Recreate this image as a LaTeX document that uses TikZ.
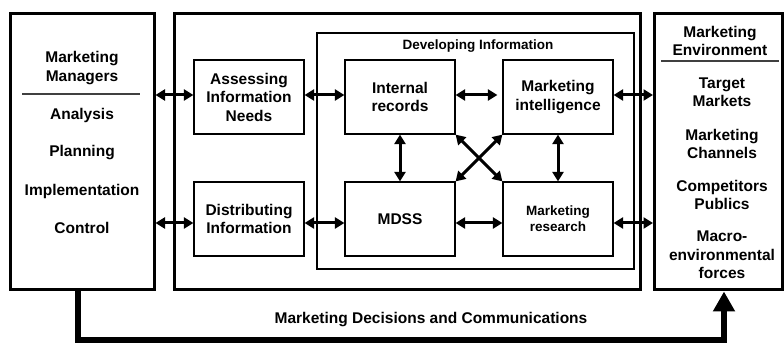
\documentclass[tikz,border=0pt]{standalone}
\usepackage{fontspec}
\setmainfont{Liberation Sans}
\usetikzlibrary{arrows.meta}
\begin{document}
\begin{tikzpicture}[x=1pt,y=-1pt,
  font=\bfseries\fontsize{15.5}{18.5}\selectfont,
  bigbox/.style={draw, line width=3pt, inner sep=0pt},
  smallbox/.style={draw, line width=1.2pt, minimum width=110pt, minimum height=74pt, align=center, inner sep=0pt},
  lbl/.style={align=center, inner sep=0pt},
  smallfont/.style={font=\bfseries\fontsize{13.5}{16}\selectfont},
  dbl/.style={line width=3pt, {Triangle[length=9.5pt,width=11pt]}-{Triangle[length=9.5pt,width=11pt]}},
  sep/.style={line width=1.3pt, draw=black!75}]
\useasboundingbox (0,0) rectangle (784,344);
% big boxes
\node[bigbox, minimum width=144pt, minimum height=276pt] (mgr) at (82,152) {};
\node[bigbox, minimum width=466pt, minimum height=276pt] (mid) at (407,152) {};
\node[bigbox, minimum width=128pt, minimum height=276pt] (env) at (718.5,152) {};
\node[draw, line width=1.3pt, minimum width=317pt, minimum height=236pt, inner sep=0pt] (dev) at (475.5,151) {};
\node[lbl, smallfont] (devlbl) at (478,46) {Developing Information};
% left texts
\node[lbl] (mm) at (82,68) {Marketing\\Managers};
\draw[sep] (22,94) -- (140,94);
\node[lbl] (an) at (82,115) {Analysis};
\node[lbl] (pl) at (82,153) {Planning};
\node[lbl] (im) at (82,191) {Implementation};
\node[lbl] (co) at (82,228) {Control};
% right texts
\node[lbl] (me) at (720,41) {Marketing\\Environment};
\draw[sep] (661,61) -- (779,61);
\node[lbl] (tm) at (722,92) {Target\\Markets};
\node[lbl] (mc) at (722,144) {Marketing\\Channels};
\node[lbl] (cp) at (722,195) {Competitors\\Publics};
\node[lbl] (mf) at (722,255) {Macro-\\environmental\\forces};
% small boxes
\node[smallbox] (ass) at (249,97) {Assessing\\Information\\Needs};
\node[smallbox] (dis) at (249,219) {Distributing\\Information};
\node[smallbox] (int) at (400,97) {Internal\\records};
\node[smallbox] (mdss) at (400,219) {MDSS};
\node[smallbox] (intel) at (558,97) {Marketing\\intelligence};
\node[smallbox, smallfont] (res) at (558,219) {Marketing\\research};
% horizontal arrows
\coordinate (a1) at ([yshift=2pt]ass.west);
\coordinate (d1) at ([yshift=-4pt]dis.west);
\coordinate (i1) at ([yshift=2pt]intel.east);
\coordinate (r1) at ([yshift=-4pt]res.east);
\draw[dbl] (a1 -| mgr.east) -- (a1);
\draw[dbl] (d1 -| mgr.east) -- (d1);
\draw[dbl] ([yshift=2pt]ass.east) -- ([yshift=2pt]int.west);
\draw[dbl] ([yshift=-4pt]dis.east) -- ([yshift=-4pt]mdss.west);
\draw[dbl, shorten >=5pt] ([yshift=2pt]int.east) -- ([yshift=2pt]intel.west);
\draw[dbl] ([yshift=-4pt]mdss.east) -- ([yshift=-4pt]res.west);
\draw[dbl] (i1) -- (i1 -| env.west);
\draw[dbl] (r1) -- (r1 -| env.west);
% vertical and diagonal arrows
\draw[dbl] (int.south) -- (mdss.north);
\draw[dbl] (intel.south) -- (res.north);
\draw[dbl] (int.south east) -- (res.north west);
\draw[dbl] (mdss.north east) -- (intel.south west);
% feedback loop
\coordinate (fbl) at (78,340.5);
\coordinate (fbr) at (724,340.5);
\draw[line width=6pt, line join=miter, -{Triangle[length=20pt,width=21pt]}] (mgr.south -| fbl) -- (fbl) -- (fbr) -- (env.south -| fbr);
\node[lbl] (fbtxt) at (431,320) {Marketing Decisions and Communications};
\end{tikzpicture}
\end{document}
